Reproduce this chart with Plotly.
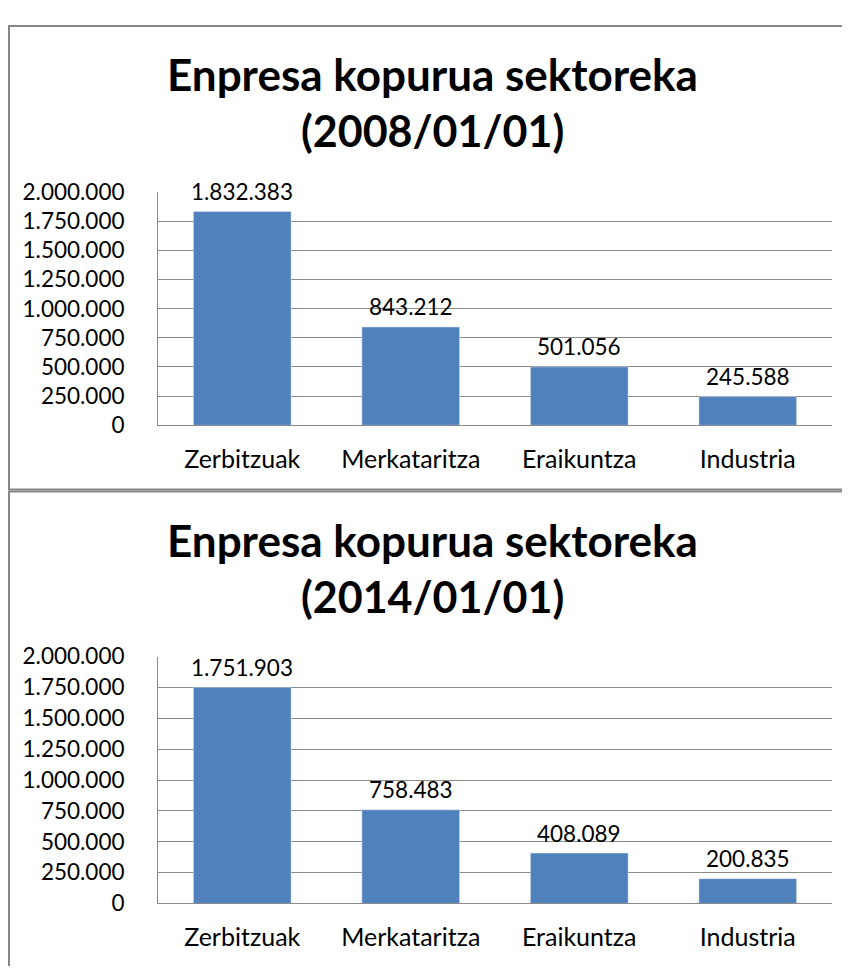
import plotly.graph_objects as go

categories = ["Zerbitzuak", "Merkataritza", "Eraikuntza", "Industria"]
values_2008 = [1832383, 843212, 501056, 245588]
values_2014 = [1751903, 758483, 408089, 200835]
titles = ["Enpresa kopurua sektoreka", "(2008/01/01)", "(2014/01/01)"]
y_ticks = [0, 250000, 500000, 750000, 1000000, 1250000, 1500000, 1750000, 2000000]

# page body has an 8px default margin; figure is sized to fit the window
OFF = 8
W, H = 850 - OFF, 974 - 2 * OFF
BAR_COLOR = "#4f81bd"
GRID = "#8a8a8a"
FONT = "Lato"


def fmt(v):
    return f"{v:,}".replace(",", ".")


def px_x(x):
    return (x - OFF) / W


def px_y(y):
    return 1 - (y - OFF) / H


fig = go.Figure()

fig.add_trace(go.Bar(x=categories, y=values_2008, marker_color=BAR_COLOR,
                     width=0.58, xaxis="x", yaxis="y", showlegend=False))
fig.add_trace(go.Bar(x=categories, y=values_2014, marker_color=BAR_COLOR,
                     width=0.58, xaxis="x2", yaxis="y2", showlegend=False))

annotations = []
for vals, xr, yr in [(values_2008, "x", "y"), (values_2014, "x2", "y2")]:
    for c, v in zip(categories, vals):
        annotations.append(dict(x=c, y=v, xref=xr, yref=yr, text=fmt(v),
                                showarrow=False, yanchor="middle", yshift=20,
                                font=dict(family=FONT, size=22.5, color="black")))

# titles
for (l1y, l2y, sub) in [(62, 120, titles[1]), (541, 599, titles[2])]:
    annotations.append(dict(x=px_x(432), y=px_y(l1y), xref="paper", yref="paper",
                            text="<b>" + titles[0] + "</b>", showarrow=False,
                            xanchor="center", yanchor="middle",
                            font=dict(family=FONT, size=44, color="black")))
    annotations.append(dict(x=px_x(432), y=px_y(l2y), xref="paper", yref="paper",
                            text="<b>" + sub + "</b>", showarrow=False,
                            xanchor="center", yanchor="middle",
                            font=dict(family=FONT, size=43, color="black")))

shapes = [
    dict(type="rect", xref="paper", yref="paper", x0=px_x(9), x1=px_x(860),
         y0=px_y(489), y1=px_y(12), line=dict(color="#878787", width=2)),
    dict(type="rect", xref="paper", yref="paper", x0=px_x(9), x1=px_x(860),
         y0=px_y(990), y1=px_y(491), line=dict(color="#878787", width=2)),
]

tick_font = dict(family=FONT, size=22.5, color="black")
cat_font = dict(family=FONT, size=25, color="black")
yaxis_common = dict(range=[0, 2000000], tickvals=y_ticks, tickformat=",d",
                    showgrid=True, gridcolor=GRID, gridwidth=1,
                    showline=True, linecolor=GRID, linewidth=1,
                    ticks="", ticklabelstandoff=28, tickfont=tick_font,
                    zeroline=False, fixedrange=True)
xaxis_common = dict(showline=True, linecolor=GRID, linewidth=1, ticks="",
                    tickfont=cat_font, ticklabelstandoff=12, showgrid=False,
                    fixedrange=True, domain=[px_x(158), px_x(832)])

fig.update_layout(
    width=W, height=H,
    margin=dict(l=0, r=0, t=0, b=0),
    paper_bgcolor="white", plot_bgcolor="white",
    separators=",.",
    bargap=0.42,
    xaxis=dict(**xaxis_common, anchor="y"),
    yaxis=dict(**yaxis_common, domain=[px_y(423), px_y(183)], anchor="x"),
    xaxis2=dict(**xaxis_common, anchor="y2"),
    yaxis2=dict(**yaxis_common, domain=[px_y(915), px_y(661)], anchor="x2"),
    annotations=annotations,
    shapes=shapes,
    font=dict(family=FONT),
)

fig.write_html("out.html", config={"displayModeBar": False})
